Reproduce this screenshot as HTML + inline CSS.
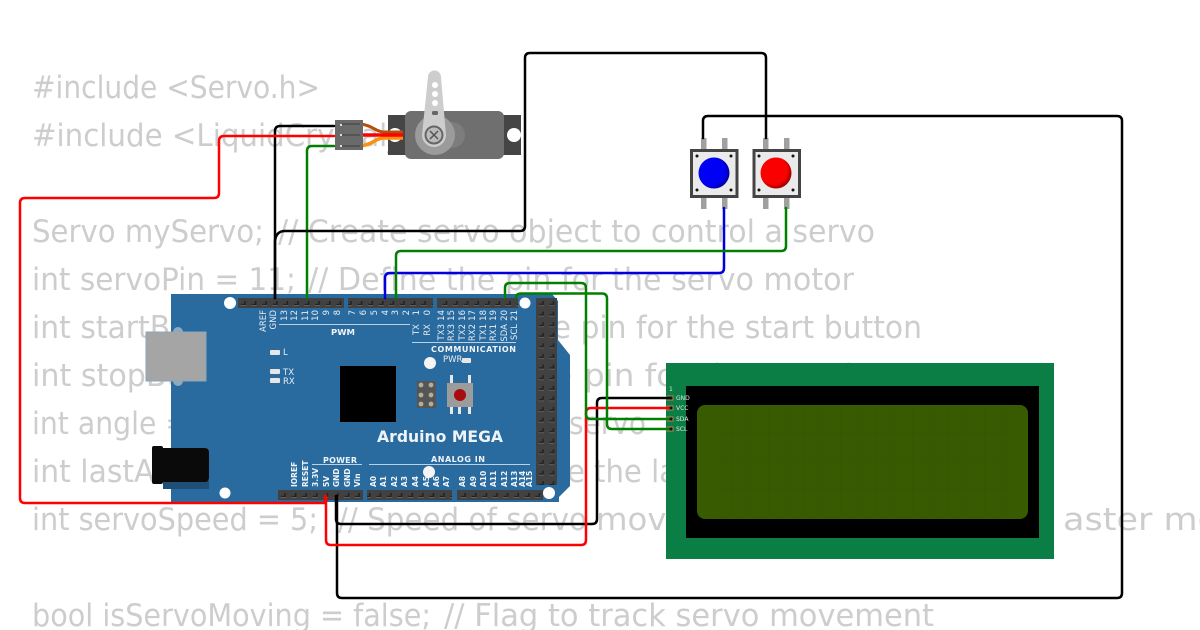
<!DOCTYPE html>
<html><head><meta charset="utf-8"><title>Arduino Mega servo circuit</title>
<style>
html,body{margin:0;padding:0;background:#fff;width:1200px;height:630px;overflow:hidden}
svg{display:block}
.code{font-family:"DejaVu Sans",sans-serif;font-size:31px;fill:#cdcdcd;white-space:pre}
.p{font-family:"DejaVu Sans",sans-serif;font-size:8.5px;fill:#e8eef4;text-anchor:end}
.b{font-family:"DejaVu Sans",sans-serif;font-weight:bold;font-size:7.5px;fill:#f0f4f8;text-anchor:start}
.h{font-family:"DejaVu Sans",sans-serif;font-weight:bold;font-size:8px;fill:#f0f4f8}
.s{font-family:"DejaVu Sans",sans-serif;font-size:8.5px;fill:#e8eef4}
.l{font-family:"DejaVu Sans",sans-serif;font-size:6px;fill:#dfe8df}
.w{fill:none;stroke-width:2.5;stroke-linecap:round}
</style></head><body>
<svg width="1200" height="630" viewBox="0 0 1200 630" xmlns="http://www.w3.org/2000/svg">
<defs>
<pattern id="hp" x="238" y="298" width="10.6" height="10" patternUnits="userSpaceOnUse">
<rect width="10.6" height="10" fill="#414141"/><path d="M3 6.5H7V3" fill="none" stroke="#222" stroke-width="1.6"/><path d="M2.5 7.5H8" stroke="#6a6a6a" stroke-width=".8"/>
</pattern>
<pattern id="hb" x="278" y="490" width="10.6" height="10" patternUnits="userSpaceOnUse">
<rect width="10.6" height="10" fill="#414141"/><path d="M3 6.5H7V3" fill="none" stroke="#222" stroke-width="1.6"/><path d="M2.5 7.5H8" stroke="#6a6a6a" stroke-width=".8"/>
</pattern>
<pattern id="hr" x="536" y="298" width="10.5" height="10.6" patternUnits="userSpaceOnUse">
<rect width="10.5" height="10.6" fill="#414141"/><path d="M3 6.5H7V3" fill="none" stroke="#222" stroke-width="1.6"/><path d="M2.5 7.5H8" stroke="#6a6a6a" stroke-width=".8"/>
</pattern>
<pattern id="lg" x="697" y="405" width="18" height="28" patternUnits="userSpaceOnUse">
<path d="M18 0V28M0 28H18" stroke="#325200" stroke-width=".6" fill="none"/>
</pattern>
<radialGradient id="gb" cx=".4" cy=".45" r=".62"><stop offset=".7" stop-color="#0000f5"/><stop offset="1" stop-color="#000090"/></radialGradient>
<radialGradient id="gr" cx=".42" cy=".42" r=".62"><stop offset=".7" stop-color="#fa0000"/><stop offset="1" stop-color="#900000"/></radialGradient>
</defs>

<rect width="1200" height="630" fill="#fff"/>

<!-- code text background -->
<text class="code" xml:space="preserve" x="32" y="98" textLength="288" lengthAdjust="spacingAndGlyphs">#include &lt;Servo.h&gt;</text>
<text class="code" xml:space="preserve" x="32" y="146" textLength="470" lengthAdjust="spacingAndGlyphs">#include &lt;LiquidCrystal_I2C.h&gt;</text>
<text class="code" xml:space="preserve" x="32" y="242" textLength="232" lengthAdjust="spacingAndGlyphs">Servo myServo;</text>
<text class="code" xml:space="preserve" x="278" y="242" textLength="597" lengthAdjust="spacingAndGlyphs">// Create servo object to control a servo</text>
<text class="code" xml:space="preserve" x="32" y="290" textLength="264" lengthAdjust="spacingAndGlyphs">int servoPin = 11;</text>
<text class="code" xml:space="preserve" x="308" y="290" textLength="546" lengthAdjust="spacingAndGlyphs">// Define the pin for the servo motor</text>
<text class="code" xml:space="preserve" x="32" y="338" textLength="890" lengthAdjust="spacingAndGlyphs">int startButtonPin = 2;  // Define the pin for the start button</text>
<text class="code" xml:space="preserve" x="32" y="386" textLength="540" lengthAdjust="spacingAndGlyphs">int stopButtonPin = 3;  // Define the</text>
<text class="code" xml:space="preserve" x="584" y="386" textLength="368" lengthAdjust="spacingAndGlyphs">pin for the stop button</text>
<text class="code" xml:space="preserve" x="32" y="434" textLength="525" lengthAdjust="spacingAndGlyphs">int angle = 0;  // Current angle of the</text>
<text class="code" xml:space="preserve" x="569" y="434" textLength="77" lengthAdjust="spacingAndGlyphs">servo</text>
<text class="code" xml:space="preserve" x="32" y="482" textLength="553" lengthAdjust="spacingAndGlyphs">int lastAngle = 0;  // Variable to store</text>
<text class="code" xml:space="preserve" x="594" y="482" textLength="200" lengthAdjust="spacingAndGlyphs">the last angle</text>
<text class="code" xml:space="preserve" x="32" y="530" textLength="286" lengthAdjust="spacingAndGlyphs">int servoSpeed = 5;</text>
<text class="code" xml:space="preserve" x="338" y="530" textLength="249" lengthAdjust="spacingAndGlyphs">// Speed of servo</text>
<text class="code" xml:space="preserve" x="596" y="530" textLength="175" lengthAdjust="spacingAndGlyphs">movement</text>
<text class="code" xml:space="preserve" x="1063" y="530" textLength="290" lengthAdjust="spacingAndGlyphs">aster movement</text>
<text class="code" xml:space="preserve" x="32" y="626" textLength="399" lengthAdjust="spacingAndGlyphs">bool isServoMoving = false;</text>
<text class="code" xml:space="preserve" x="444" y="626" textLength="490" lengthAdjust="spacingAndGlyphs">// Flag to track servo movement</text>

<!-- Arduino board -->
<polygon points="171,294 552,294 558,301 558,340 570,355 570,486 559,497 559,502 171,502" fill="#2a6b9f"/>
<circle cx="178" cy="332" r="5" fill="#8fa9bd"/><circle cx="178" cy="381" r="5" fill="#8fa9bd"/>
<rect x="146" y="332" width="60" height="49" fill="#a5a5a5" stroke="#8fa6b8" stroke-width="1"/>
<rect x="163" y="480" width="46" height="9" fill="#1f4f77"/>
<rect x="152" y="446" width="11" height="38" rx="2" fill="#0a0a0a"/>
<path d="M163 448H205q4 0 4 5V477q0 5-4 5H163Z" fill="#0a0a0a"/>
<circle cx="230" cy="303" r="6" fill="#fff"/><circle cx="525" cy="303" r="5.5" fill="#fff"/>
<circle cx="225" cy="493" r="5.5" fill="#fff"/><circle cx="549" cy="493" r="6" fill="#fff"/>
<circle cx="430" cy="363" r="6" fill="#f4f4f4"/><circle cx="429" cy="472" r="6" fill="#f4f4f4"/>

<rect x="238" y="298" width="106" height="10" fill="url(#hp)"/>
<rect x="348" y="298" width="85" height="10" fill="url(#hp)"/>
<rect x="437" y="298" width="81" height="10" fill="url(#hp)"/>
<rect x="536" y="298" width="21" height="187" fill="url(#hr)"/>
<rect x="278" y="490" width="85" height="10" fill="url(#hb)"/>
<rect x="367" y="490" width="85" height="10" fill="url(#hb)"/>
<rect x="457" y="490" width="86" height="10" fill="url(#hb)"/>

<rect x="340" y="366" width="56" height="56" fill="#000"/>
<rect x="417" y="381" width="19" height="27" fill="#555"/>
<g fill="#b5ad9c"><circle cx="421" cy="385" r="2.4"/><circle cx="431" cy="385" r="2.4"/><circle cx="421" cy="395" r="2.4"/><circle cx="431" cy="395" r="2.4"/><circle cx="421" cy="404" r="2.4"/><circle cx="431" cy="404" r="2.4"/></g>
<g fill="#e8e8e8"><rect x="450" y="375" width="3" height="8"/><rect x="468" y="375" width="3" height="8"/><rect x="450" y="407" width="3" height="7"/><rect x="458" y="407" width="3" height="7"/><rect x="468" y="407" width="3" height="7"/></g>
<rect x="447" y="383" width="26" height="24" fill="#9c9c9c"/>
<circle cx="460" cy="395" r="6" fill="#a80c0c"/>

<g fill="#e6e6e6"><rect x="270" y="350" width="10" height="5" rx="1"/><rect x="270" y="369" width="10" height="5" rx="1"/><rect x="270" y="378" width="10" height="5" rx="1"/><rect x="462" y="358" width="9" height="5" rx="1"/></g>
<text class="s" x="283" y="355">L</text><text class="s" x="283" y="375">TX</text><text class="s" x="283" y="384">RX</text>
<text class="s" x="443" y="362">PWR</text>

<g stroke="#b9d2e6" stroke-width="1" fill="none"><path d="M279 324.500H410"/><path d="M412 342.500H516"/><path d="M312 464.500H362"/><path d="M369 464.500H530"/></g>
<text class="h" x="331" y="335" textLength="24" lengthAdjust="spacingAndGlyphs">PWM</text>
<text class="h" x="431" y="352" textLength="85">COMMUNICATION</text>
<text class="h" x="323" y="463" textLength="34">POWER</text>
<text class="h" x="431" y="462" textLength="54">ANALOG IN</text>
<text x="377" y="442" font-family="DejaVu Sans,sans-serif" font-weight="bold" font-size="16" fill="#eef3f7" textLength="126" lengthAdjust="spacingAndGlyphs">Arduino MEGA</text>

<!-- top labels -->
<text class="p" transform="translate(266,310) rotate(-90)">AREF</text>
<text class="p" transform="translate(276,310) rotate(-90)">GND</text>
<text class="p" transform="translate(287,310) rotate(-90)">13</text>
<text class="p" transform="translate(297,310) rotate(-90)">12</text>
<text class="p" transform="translate(308,310) rotate(-90)">11</text>
<text class="p" transform="translate(318,310) rotate(-90)">10</text>
<text class="p" transform="translate(329,310) rotate(-90)">9</text>
<text class="p" transform="translate(340,310) rotate(-90)">8</text>
<text class="p" transform="translate(355,310) rotate(-90)">7</text>
<text class="p" transform="translate(366,310) rotate(-90)">6</text>
<text class="p" transform="translate(377,310) rotate(-90)">5</text>
<text class="p" transform="translate(388,310) rotate(-90)">4</text>
<text class="p" transform="translate(398,310) rotate(-90)">3</text>
<text class="p" transform="translate(409,310) rotate(-90)">2</text>
<text class="p" transform="translate(419,310) rotate(-90)">1</text>
<text class="p" transform="translate(430,310) rotate(-90)">0</text>
<text class="p" transform="translate(444,310) rotate(-90)">14</text>
<text class="p" transform="translate(454,310) rotate(-90)">15</text>
<text class="p" transform="translate(465,310) rotate(-90)">16</text>
<text class="p" transform="translate(475,310) rotate(-90)">17</text>
<text class="p" transform="translate(486,310) rotate(-90)">18</text>
<text class="p" transform="translate(496,310) rotate(-90)">19</text>
<text class="p" transform="translate(507,310) rotate(-90)">20</text>
<text class="p" transform="translate(517,310) rotate(-90)">21</text>
<text class="p" transform="translate(419,324) rotate(-90)">TX</text>
<text class="p" transform="translate(430,324) rotate(-90)">RX</text>
<text class="p" transform="translate(444,324) rotate(-90)">TX3</text>
<text class="p" transform="translate(454,324) rotate(-90)">RX3</text>
<text class="p" transform="translate(465,324) rotate(-90)">TX2</text>
<text class="p" transform="translate(475,324) rotate(-90)">RX2</text>
<text class="p" transform="translate(486,324) rotate(-90)">TX1</text>
<text class="p" transform="translate(496,324) rotate(-90)">RX1</text>
<text class="p" transform="translate(507,324) rotate(-90)">SDA</text>
<text class="p" transform="translate(517,324) rotate(-90)">SCL</text>

<!-- bottom labels -->
<text class="b" transform="translate(297,487) rotate(-90)">IOREF</text>
<text class="b" transform="translate(308,487) rotate(-90)">RESET</text>
<text class="b" transform="translate(318,487) rotate(-90)">3.3V</text>
<text class="b" transform="translate(329,487) rotate(-90)">5V</text>
<text class="b" transform="translate(339,487) rotate(-90)">GND</text>
<text class="b" transform="translate(350,487) rotate(-90)">GND</text>
<text class="b" transform="translate(360,487) rotate(-90)">Vin</text>
<text class="b" transform="translate(376,487) rotate(-90)">A0</text>
<text class="b" transform="translate(386,487) rotate(-90)">A1</text>
<text class="b" transform="translate(397,487) rotate(-90)">A2</text>
<text class="b" transform="translate(407,487) rotate(-90)">A3</text>
<text class="b" transform="translate(418,487) rotate(-90)">A4</text>
<text class="b" transform="translate(429,487) rotate(-90)">A5</text>
<text class="b" transform="translate(439,487) rotate(-90)">A6</text>
<text class="b" transform="translate(449,487) rotate(-90)">A7</text>
<text class="b" transform="translate(465,487) rotate(-90)">A8</text>
<text class="b" transform="translate(476,487) rotate(-90)">A9</text>
<text class="b" transform="translate(486,487) rotate(-90)">A10</text>
<text class="b" transform="translate(496,487) rotate(-90)">A11</text>
<text class="b" transform="translate(507,487) rotate(-90)">A12</text>
<text class="b" transform="translate(517,487) rotate(-90)">A13</text>
<text class="b" transform="translate(525,487) rotate(-90)">A14</text>
<text class="b" transform="translate(532,487) rotate(-90)">A15</text>

<!-- LCD -->
<rect x="666" y="363" width="388" height="196" fill="#0a7e45"/>
<rect x="686" y="386" width="353" height="152" fill="#000"/>
<rect x="697" y="405" width="331" height="114" rx="8" fill="#385a00"/>
<rect x="715" y="405" width="296" height="112" fill="url(#lg)"/>
<g fill="#6f7a4a"><rect x="666" y="395" width="8" height="6" rx="1.500"/><rect x="666" y="405" width="8" height="6" rx="1.500"/><rect x="666" y="416" width="8" height="6" rx="1.500"/><rect x="666" y="426" width="8" height="6" rx="1.500"/></g>
<text class="l" x="669" y="391">1</text>
<text class="l" x="676" y="400">GND</text><text class="l" x="676" y="410">VCC</text><text class="l" x="676" y="421">SDA</text><text class="l" x="676" y="431">SCL</text>

<!-- Servo -->
<rect x="388" y="115" width="133" height="40" fill="#454545"/>
<circle cx="395" cy="135" r="7" fill="#fff"/><circle cx="514" cy="135" r="7" fill="#fff"/>
<rect x="405" y="111" width="99" height="48" rx="6" fill="#6f6f6f"/>
<circle cx="452" cy="135" r="13" fill="#7d7d7d"/>
<circle cx="435" cy="135" r="20" fill="#9b9b9b"/>
<path d="M428 77a6.500 6.500 0 0 1 13 0L446 135a12 12 0 0 1-24 0Z" fill="#cdcdcd"/>
<g fill="#fff"><circle cx="435" cy="85" r="3"/><circle cx="435" cy="94" r="3"/><circle cx="435" cy="103" r="3"/></g>
<rect x="432" y="111" width="6" height="4" rx="1.500" fill="#666"/>
<circle cx="434" cy="135" r="8.500" fill="#bbb" stroke="#666" stroke-width="2"/>
<path d="M430 131L438 139M438 131L430 139" stroke="#555" stroke-width="1.500"/>
<path d="M361 124C374 126 374 131 383 132H403" fill="none" stroke="#b4500c" stroke-width="3"/>
<path d="M361 146C374 144 374 139 383 138H403" fill="none" stroke="#f8920c" stroke-width="3.500"/>
<path d="M361 135H403" stroke="#f00" stroke-width="3.500"/>
<rect x="335" y="120" width="28" height="30" fill="#6a6a6a"/>
<g stroke="#3f3f3f" stroke-width="1"><path d="M342 124H360M342 135H360M342 146H360"/></g>
<g fill="#ddd"><rect x="340" y="124" width="2" height="2"/><rect x="340" y="134" width="2" height="2"/><rect x="340" y="145" width="2" height="2"/></g>

<!-- Buttons -->
<g fill="#a0a0a0">
<rect x="701" y="138" width="5.500" height="12"/><rect x="722" y="138" width="5.500" height="12"/>
<rect x="701" y="197" width="5.500" height="12"/><rect x="722" y="197" width="5.500" height="12"/>
<rect x="763" y="138" width="5.500" height="12"/><rect x="784" y="138" width="5.500" height="12"/>
<rect x="763" y="197" width="5.500" height="12"/><rect x="784" y="197" width="5.500" height="12"/>
</g>
<rect x="691.500" y="150.500" width="45.500" height="46" fill="#eaeaea" stroke="#444" stroke-width="3"/>
<rect x="754" y="150.500" width="45.500" height="46" fill="#eaeaea" stroke="#444" stroke-width="3"/>
<g fill="#111"><circle cx="697" cy="156" r="1.500"/><circle cx="731" cy="156" r="1.500"/><circle cx="697" cy="190" r="1.500"/><circle cx="731" cy="190" r="1.500"/><circle cx="759" cy="156" r="1.500"/><circle cx="793" cy="156" r="1.500"/><circle cx="759" cy="190" r="1.500"/><circle cx="793" cy="190" r="1.500"/></g>
<circle cx="714" cy="173" r="15.500" fill="url(#gb)"/>
<circle cx="776" cy="173" r="15.500" fill="url(#gr)"/>

<!-- Wires -->
<g class="wires">
<path class="w" stroke="#000" d="M334 126H280Q275 126 275 131V298"/>
<path class="w" stroke="#008000" d="M334 146H312Q307 146 307 151V298"/>
<path class="w" stroke="#f00" d="M334 136H224Q219 136 219 141V193Q219 198 214 198H25Q20 198 20 203V498Q20 503 25 503H325V496"/>
<path class="w" stroke="#000" d="M766 138V58Q766 53 761 53H530Q525 53 525 58V226Q525 231 520 231H285Q276 231 275 241V298"/>
<path class="w" stroke="#000" d="M703 138V121Q703 116 708 116H1117Q1122 116 1122 121V593Q1122 598 1117 598H342Q337 598 337 593V496"/>
<path class="w" stroke="#000" d="M336 496V519Q336 524 341 524H592Q597 524 597 519V403Q597 398 602 398H671"/>
<path class="w" stroke="#f00" d="M326 496V540Q326 545 331 545H581Q586 545 586 540V413Q586 408 591 408H671"/>
<path class="w" stroke="#008000" d="M505 298V288Q505 283 510 283H581Q586 283 586 288V414Q586 419 591 419H671"/>
<path class="w" stroke="#008000" d="M516 298Q516 293.500 521 293.500H602Q607 293.500 607 298.500V424Q607 429 612 429H671"/>
<path class="w" stroke="#00d" d="M724 208V268Q724 273 719 273H390Q385 273 385 278V298"/>
<path class="w" stroke="#008000" d="M786 208V246Q786 251 781 251H401Q396 251 396 256V298"/>
</g>
<g fill="#111"><circle cx="671" cy="398" r="1.500"/><circle cx="671" cy="408" r="1.500"/><circle cx="671" cy="419" r="1.500"/><circle cx="671" cy="429" r="1.500"/></g>
</svg>
</body></html>
